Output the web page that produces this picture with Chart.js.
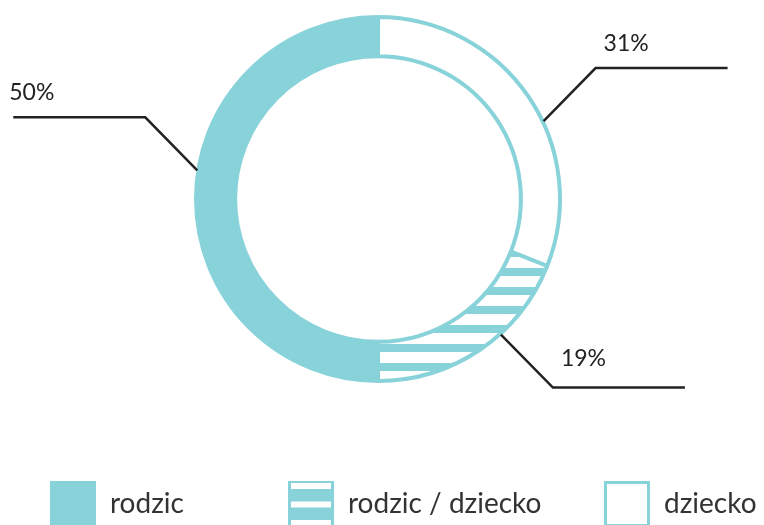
<!DOCTYPE html>
<html>
<head>
<meta charset="utf-8">
<script src="https://cdn.jsdelivr.net/npm/chart.js@4.4.1/dist/chart.umd.min.js"></script>
<style>
  html, body { margin: 0; padding: 0; background: #fff; }
  canvas { display: block; }
</style>
</head>
<body>
<canvas id="chart-share" width="764" height="525"></canvas>
<script>
/* rodzic / dziecko — udział (doughnut) */

const categories = ['rodzic', 'rodzic / dziecko', 'dziecko'];
const shares = [50, 19, 31];
const shareLabels = ['50%', '19%', '31%'];

// the ring runs clockwise from 12 o'clock: dziecko, rodzic / dziecko, rodzic
const ringOrder = [2, 1, 0];

const TEAL = '#88d2da';
const INK = '#222';

const canvas = document.getElementById('chart-share');
const ctx = canvas.getContext('2d');

function stripePattern() {
    const tile = document.createElement('canvas');
    tile.width = 8;
    tile.height = 19;
    const g = tile.getContext('2d');
    g.fillStyle = '#fff';
    g.fillRect(0, 0, 8, 19);
    g.fillStyle = TEAL;
    g.fillRect(0, 2, 8, 8);
    return ctx.createPattern(tile, 'repeat');
}

const fills = ['#fff', stripePattern(), TEAL]; // ring order

// leader lines: shift of the anchor from the slice middle (deg), category order
const leaderShift = [9, -8, 9];

const leaderPlugin = {
    id: 'leaders',
    afterDatasetsDraw(chart) {
        const meta = chart.getDatasetMeta(0);
        const c = chart.ctx;
        c.save();
        c.strokeStyle = INK;
        c.lineWidth = 2.5;
        c.fillStyle = INK;
        c.font = '23px Lato';
        c.textAlign = 'left';
        c.textBaseline = 'alphabetic';
        meta.data.forEach((arc, p) => {
            const i = ringOrder[p];
            const { x, y, startAngle, endAngle, outerRadius } =
                arc.getProps(['x', 'y', 'startAngle', 'endAngle', 'outerRadius'], true);
            const a = (startAngle + endAngle) / 2 + leaderShift[i] * Math.PI / 180;
            const r = outerRadius + 1;
            const ax = x + Math.cos(a) * r;
            const ay = y + Math.sin(a) * r;
            const sx = Math.cos(a) < 0 ? -1 : 1;
            const sy = Math.sin(a) < 0 ? -1 : 1;
            const ex = ax + sx * 52;
            const ey = ay + sy * 53;
            const endX = ex + sx * 132;
            c.beginPath();
            c.moveTo(ax, ay);
            c.lineTo(ex, ey);
            c.lineTo(endX, ey);
            c.stroke();
            const tx = sx < 0 ? endX - 4 : ex + 8;
            const ty = ey - (sy < 0 ? 17 : 22);
            c.fillText(shareLabels[i], tx, ty);
        });
        c.restore();
    }
};

// legend along the bottom: solid, striped, outlined boxes
const legendX = [50, 288, 604];

const legendPlugin = {
    id: 'bottomLegend',
    afterDraw(chart) {
        const c = chart.ctx;
        const top = 481, size = 46;
        c.save();
        categories.forEach((name, i) => {
            const bx = legendX[i];
            if (i === 0) {
                c.fillStyle = TEAL;
                c.fillRect(bx, top, size, size);
            } else if (i === 1) {
                c.fillStyle = TEAL;
                c.fillRect(bx, top, size, size);
                c.fillStyle = '#fff';
                for (let y = top + 2; y < top + size; y += 18.5) {
                    c.fillRect(bx + 3, y, size - 6, 6);
                }
            } else {
                c.strokeStyle = TEAL;
                c.lineWidth = 3;
                c.strokeRect(bx + 1.5, top + 1.5, size - 3, size - 3);
            }
            c.fillStyle = '#333';
            c.font = '28px Lato';
            c.textAlign = 'left';
            c.textBaseline = 'alphabetic';
            c.fillText(name, bx + 60, 513);
        });
        c.restore();
    }
};

new Chart(canvas, {
    type: 'doughnut',
    data: {
        labels: ringOrder.map(i => categories[i]),
        datasets: [{
            data: ringOrder.map(i => shares[i]),
            backgroundColor: fills,
            borderColor: TEAL,
            borderWidth: 4,
            borderAlign: 'center',
            hoverOffset: 0,
        }],
    },
    options: {
        responsive: false,
        animation: false,
        events: [],
        cutout: '78.5%',
        layout: { padding: { top: 15, bottom: 142, left: 120, right: 128 } },
        plugins: {
            legend: { display: false },
            tooltip: { enabled: false },
        },
    },
    plugins: [leaderPlugin, legendPlugin],
});
</script>
</body>
</html>
